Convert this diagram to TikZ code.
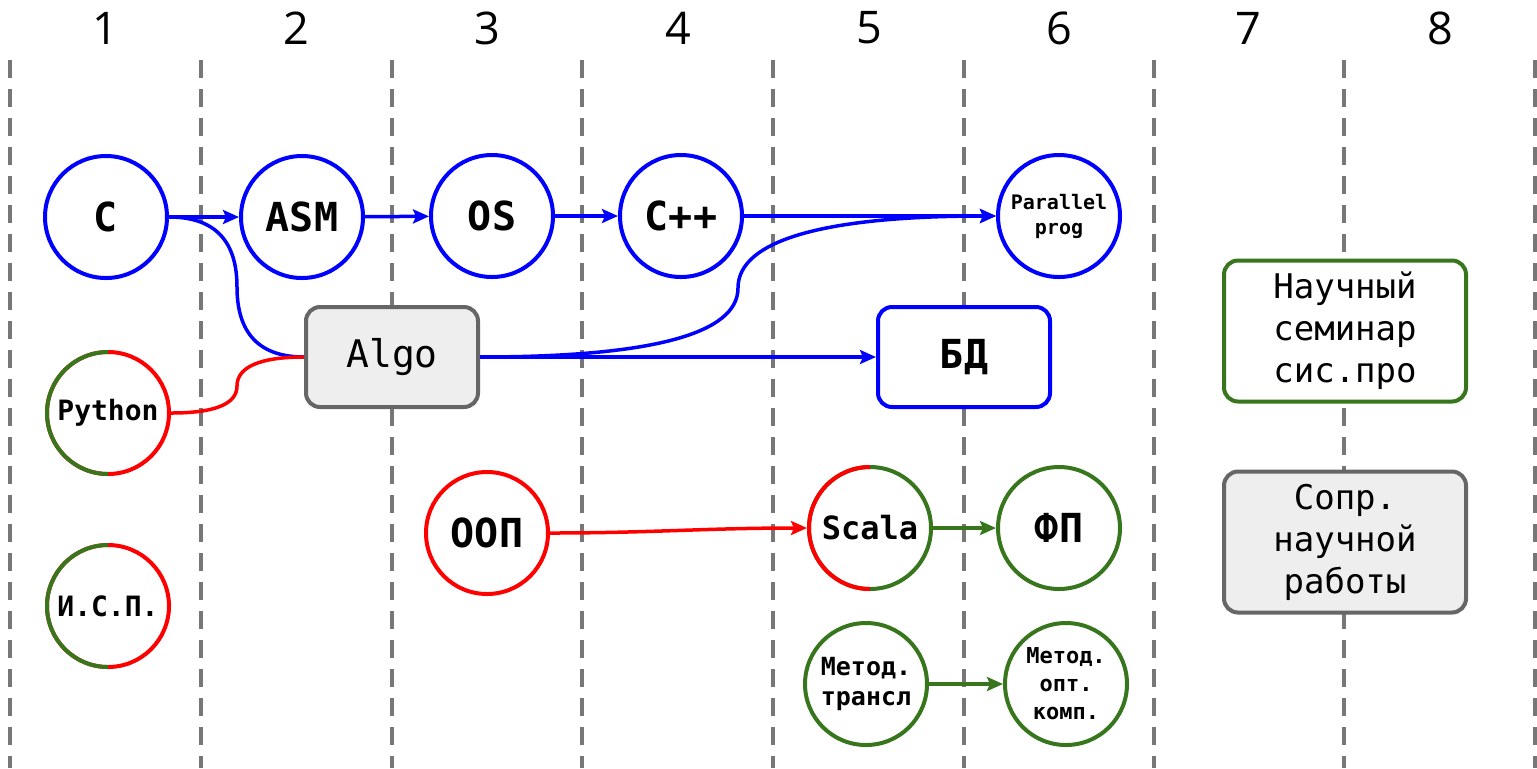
\documentclass[tikz,border=0pt]{standalone}
\usepackage{fontspec}
\setmainfont{Open Sans}
\setmonofont{DejaVu Sans Mono}
\usepackage{tikz}
\usetikzlibrary{arrows.meta, positioning}
\definecolor{planblue}{HTML}{0000FF}
\definecolor{planred}{HTML}{FF0000}
\definecolor{plangreen}{HTML}{38761D}
\definecolor{planink}{HTML}{666666}
\definecolor{plangrid}{HTML}{777777}
\definecolor{plangrayfill}{HTML}{EEEEEE}
\newcommand{\fsz}[2]{\fontsize{#1}{#2}\selectfont}

\begin{document}
\begin{tikzpicture}[
  x=0.5pt, y=-0.5pt,
  course/.style={
    circle,
    draw,
    line width=2pt,
    fill=white,
    minimum size=61pt,
    inner sep=0pt,
    align=center,
    font=\ttfamily\bfseries\fsz{20pt}{24pt}
  },
  bluecourse/.style={course, draw=planblue},
  redcourse/.style={course, draw=planred},
  greencourse/.style={course, draw=plangreen},
  block/.style={
    rounded corners=7pt,
    line width=2pt,
    minimum width=86pt,
    minimum height=50pt,
    align=center
  },
  algoblock/.style={block, draw=planink, fill=plangrayfill, font=\ttfamily\fsz{19pt}{23pt}},
  dbblock/.style={block, draw=planblue, fill=white, font=\ttfamily\bfseries\fsz{20pt}{24pt}},
  sideblock/.style={block, minimum width=121pt, minimum height=70.5pt, font=\ttfamily\fsz{17pt}{21pt}},
  halfring/.style={line width=2pt, draw=#1},
  colnum/.style={font=\fsz{22.5pt}{26pt}},
  grid/.style={draw=plangrid, line width=2pt, dash pattern=on 9pt off 5.5pt},
  flow/.style={-{Stealth[length=8pt, width=7pt, inset=1.5pt]}, line width=1.75pt, draw=#1},
  link/.style={line width=1.75pt, draw=#1}
]
\useasboundingbox (0,0) rectangle (1537,768);

% semester columns
\foreach \x in {10,201,392,582,773,964,1154,1344,1535}
  \draw[grid] (\x,60) -- (\x,768);
\foreach \n/\x in {1/105,2/296,3/487,4/678,5/869,6/1059,7/1248,8/1440}
  \node[colnum] (num\n) at (\x,28) {\n};

% courses
\node[bluecourse] (c) at (106,217) {C};
\node[bluecourse] (asm) at (302,217) {ASM};
\node[bluecourse] (os) at (492,216) {OS};
\node[bluecourse] (cpp) at (681,216) {C++};
\node[bluecourse, font=\ttfamily\bfseries\fsz{10pt}{12.5pt}] (par) at (1059,216) {Parallel\\prog};

\node[algoblock] (algo) at (392,357) {Algo};
\node[dbblock] (bd) at (964,357) {БД};

\node[redcourse, font=\ttfamily\bfseries\fsz{14pt}{17pt}] (py) at (108,413) {Python};
\node[redcourse, font=\ttfamily\bfseries\fsz{14pt}{17pt}] (isp) at (108,606) {И.С.П.};
\draw[halfring=plangreen] ([yshift=30.5pt]py.center) arc[start angle=90, end angle=270, radius=30.5pt];
\draw[halfring=plangreen] ([yshift=30.5pt]isp.center) arc[start angle=90, end angle=270, radius=30.5pt];

\node[redcourse] (oop) at (487,533) {ООП};
\node[greencourse, font=\ttfamily\bfseries\fsz{16pt}{19pt}] (scala) at (870,528) {Scala};
\draw[halfring=planred] ([yshift=30.5pt]scala.center) arc[start angle=90, end angle=270, radius=30.5pt];
\node[greencourse] (fp) at (1059,528) {ФП};

\node[greencourse, font=\ttfamily\bfseries\fsz{12.5pt}{15pt}] (mtr) at (866,684) {Метод.\\трансл};
\node[greencourse, font=\ttfamily\bfseries\fsz{11pt}{14pt}] (mopt) at (1066,684) {Метод.\\опт.\\комп.};

\node[sideblock, draw=plangreen, fill=white] (sem) at (1345,331) {Научный\\семинар\\сис.про};
\node[sideblock, draw=planink, fill=plangrayfill] (sopr) at (1345,542) {Сопр.\\научной\\работы};

% dependencies
\draw[flow=planblue] (c) -- (asm);
\draw[flow=planblue] (asm) -- (os);
\draw[flow=planblue] (os) -- (cpp);
\draw[flow=planblue] (cpp) -- (par);
\draw[link=planblue] (c.east) .. controls (214,217) and (237,240) .. (237,287)
  .. controls (237,334) and (260,357) .. (algo.west);
\draw[link=planred] (py.east) .. controls (215,413) and (237,404) .. (237,386)
  .. controls (237,367) and (260,357) .. (algo.west);
\draw[flow=planblue] (algo.east) .. controls (651,357) and (738,334) .. (738,288)
  .. controls (738,240) and (825,216) .. (par.west);
\draw[flow=planblue] (algo) -- (bd);
\draw[flow=planred] (oop.east) to[out=0, in=180] (scala.west);
\draw[flow=plangreen] (scala) -- (fp);
\draw[flow=plangreen] (mtr) -- (mopt);

\end{tikzpicture}
\end{document}
